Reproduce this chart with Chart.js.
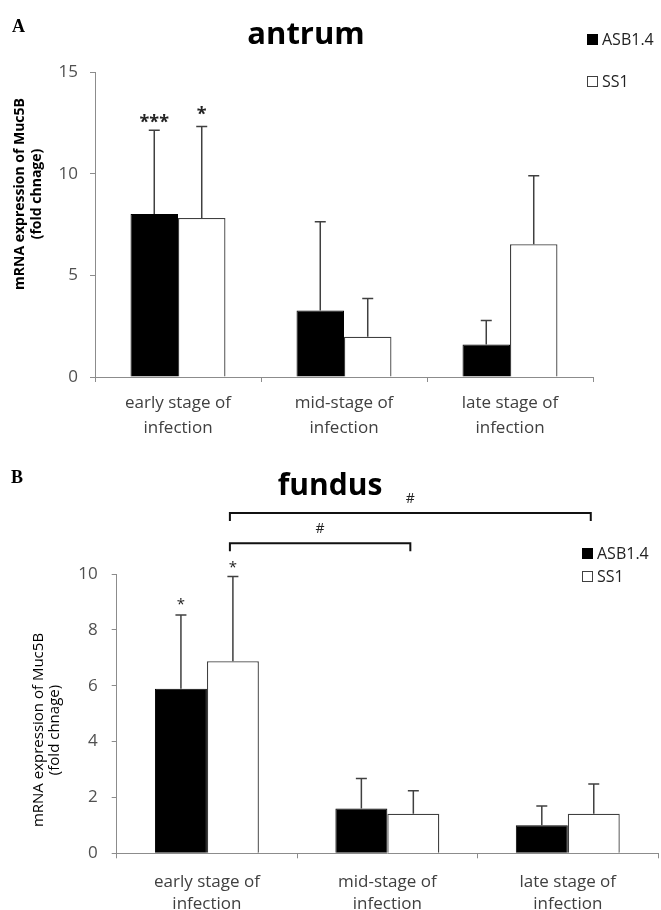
<!DOCTYPE html>
<html><head><meta charset="utf-8">
<script src="https://cdn.jsdelivr.net/npm/chart.js@4.4.1/dist/chart.umd.min.js"></script>
<style>
html,body{margin:0;padding:0;background:#fff;}
#wrap{position:relative;width:661px;height:910px;overflow:hidden;background:#fff;}
.c{position:absolute;left:0;width:661px;}
</style></head><body>
<div id="wrap">
<div class="c" style="top:0;height:450px"><canvas id="cA"></canvas></div>
<div class="c" style="top:450px;height:460px"><canvas id="cB"></canvas></div>
</div>
<script>
// ---------- data ----------
const categories = [["early stage of","infection"],["mid-stage of","infection"],["late stage of","infection"]];
const seriesNames = ["ASB1.4","SS1"];

const antrumASB    = [8.02, 3.27, 1.60];
const antrumASBErr = [4.11, 4.37, 1.18];
const antrumSS1    = [7.82, 1.98, 6.53];
const antrumSS1Err = [4.50, 1.88, 3.37];
const antrumASBSig = ["***", "", ""];
const antrumSS1Sig = ["*", "", ""];
const antrumTicks  = [0, 5, 10, 15];

const fundusASB    = [5.89, 1.60, 1.00];
const fundusASBErr = [2.64, 1.08, 0.69];
const fundusSS1    = [6.88, 1.42, 1.42];
const fundusSS1Err = [3.03, 0.82, 1.06];
const fundusASBSig = ["*", "", ""];
const fundusSS1Sig = ["*", "", ""];
const fundusTicks  = [0, 2, 4, 6, 8, 10];
const fundusComparisons = [{from:0, to:1, label:"#"}, {from:0, to:2, label:"#"}];

const yTitleLines = ["mRNA expression of Muc5B", "(fold chnage)"];

// ---------- plugin ----------
const annot = {
  id: 'annot',
  afterDatasetsDraw(chart, args, o) {
    const ctx = chart.ctx, y = chart.scales.y;
    ctx.save();
    chart.data.datasets.forEach((ds, di) => {
      const meta = chart.getDatasetMeta(di);
      meta.data.forEach((bar, i) => {
        const y0 = y.getPixelForValue(ds.data[i]);
        const y1 = y.getPixelForValue(ds.data[i] + ds.err[i]);
        ctx.strokeStyle = o.errColor; ctx.lineWidth = o.errWidth;
        ctx.beginPath();
        ctx.moveTo(bar.x, y0); ctx.lineTo(bar.x, y1);
        ctx.moveTo(bar.x - o.cap, y1); ctx.lineTo(bar.x + o.cap, y1);
        ctx.stroke();
        if (ds.sig[i]) {
          ctx.font = o.sigFont; ctx.fillStyle = '#222';
          ctx.textAlign = 'center'; ctx.textBaseline = 'alphabetic';
          ctx.fillText(ds.sig[i], bar.x, y1 - o.sigGap[di]);
        }
      });
    });
    ctx.restore();
  },
  afterDraw(chart, args, o) {
    const ctx = chart.ctx;
    ctx.save();
    // panel letter
    ctx.fillStyle = '#000'; ctx.textAlign = 'left'; ctx.textBaseline = 'alphabetic';
    ctx.font = 'bold 18px "Liberation Serif"';
    ctx.fillText(o.letter, o.letterPos[0], o.letterPos[1]);
    // title
    ctx.font = o.titleFont; ctx.textAlign = 'center';
    ctx.fillText(o.title, o.titlePos[0], o.titlePos[1]);
    // y title
    ctx.save();
    ctx.translate(o.yTitle.x, o.yTitle.y);
    ctx.rotate(-Math.PI / 2);
    ctx.font = o.yTitle.font; ctx.fillStyle = '#000'; ctx.textAlign = 'center'; ctx.textBaseline = 'middle';
    yTitleLines.forEach((t, k) => ctx.fillText(t, 0, k * o.yTitle.gap));
    ctx.restore();
    // legend
    ctx.font = '16px "Open Sans"'; ctx.textAlign = 'left'; ctx.textBaseline = 'middle';
    chart.data.datasets.forEach((ds, di) => {
      const lx = o.legend.x, ly = o.legend.y + di * o.legend.gap;
      if (di === 0) { ctx.fillStyle = '#000'; ctx.fillRect(lx, ly - 6, 11, 11); }
      else { ctx.fillStyle = '#fff'; ctx.fillRect(lx, ly - 6, 11, 11); ctx.strokeStyle = '#404040'; ctx.lineWidth = 1; ctx.strokeRect(lx + 0.5, ly - 5.5, 10, 10); }
      ctx.fillStyle = '#222';
      ctx.fillText(ds.label, lx + 15, ly);
    });
    // brackets
    if (o.comparisons) {
      const meta = chart.getDatasetMeta(1);
      o.comparisons.forEach((c, k) => {
        const x1 = meta.data[c.from].x - 3, x2 = meta.data[c.to].x - 3;
        const yl = chart.chartArea.top - o.bracketOffsets[k];
        ctx.strokeStyle = '#111'; ctx.lineWidth = 2;
        ctx.beginPath();
        ctx.moveTo(x1, yl + 8); ctx.lineTo(x1, yl); ctx.lineTo(x2, yl); ctx.lineTo(x2, yl + 8);
        ctx.stroke();
        ctx.font = '14px "Open Sans"'; ctx.fillStyle = '#222'; ctx.textAlign = 'center'; ctx.textBaseline = 'alphabetic';
        ctx.fillText(c.label, (x1 + x2) / 2, yl - 10);
      });
    }
    ctx.restore();
  }
};

Chart.defaults.font.family = '"Open Sans"';
Chart.defaults.animation = false;

function makeChart(id, cfg) {
  return new Chart(document.getElementById(id), {
    type: 'bar',
    data: {
      labels: categories,
      datasets: [
        { label: seriesNames[0], data: cfg.a, err: cfg.aErr, sig: cfg.aSig, backgroundColor: '#000', borderColor: '#000', borderWidth: 1 },
        { label: seriesNames[1], data: cfg.b, err: cfg.bErr, sig: cfg.bSig, backgroundColor: '#fff', borderColor: '#404040', borderWidth: 1.3 }
      ]
    },
    plugins: [annot],
    options: {
      responsive: true, maintainAspectRatio: false,
      layout: { padding: { left: 0, right: cfg.padRight, top: cfg.padTop, bottom: 0 } },
      datasets: { bar: { categoryPercentage: cfg.catPct, barPercentage: 1 } },
      plugins: { legend: { display: false }, tooltip: { enabled: false }, annot: cfg.annot },
      scales: {
        x: {
          grid: { display: true, offset: true, drawOnChartArea: false, drawTicks: true, tickLength: 5, color: '#8c8c8c' },
          border: { display: true, color: '#8c8c8c' },
          ticks: { color: '#404040', font: { size: 17, lineHeight: cfg.xLineHeight }, padding: cfg.xPad, maxRotation: 0, autoSkip: false },
          afterFit: s => { s.height = cfg.xHeight; }
        },
        y: {
          min: cfg.ticks[0], max: cfg.ticks[cfg.ticks.length - 1],
          afterBuildTicks: s => { s.ticks = cfg.ticks.map(v => ({ value: v })); },
          grid: { display: true, drawOnChartArea: false, drawTicks: true, tickLength: 5, color: '#8c8c8c' },
          border: { display: true, color: '#8c8c8c' },
          ticks: { color: '#505050', font: { size: 17 }, padding: cfg.yPad },
          afterFit: s => { s.width = cfg.yWidth; }
        }
      }
    }
  });
}

makeChart('cA', {
  a: antrumASB, aErr: antrumASBErr, aSig: antrumASBSig,
  b: antrumSS1, bErr: antrumSS1Err, bSig: antrumSS1Sig,
  ticks: antrumTicks, padRight: 68, padTop: 72, catPct: 0.572,
  xHeight: 73, xPad: 9, xLineHeight: 1.45, yPad: 12, yWidth: 95,
  annot: {
    errColor: '#404040', errWidth: 1.5, cap: 5.5, sigFont: 'bold 18px "Open Sans"', sigGap: [2, 6],
    letter: 'A', letterPos: [12, 32], title: 'antrum', titleFont: 'bold 31px "Open Sans"', titlePos: [306, 44],
    yTitle: { x: 20, y: 194, gap: 17, font: 'bold 14px "Open Sans"' },
    legend: { x: 587, y: 40, gap: 42 }
  }
});

makeChart('cB', {
  a: fundusASB, aErr: fundusASBErr, aSig: fundusASBSig,
  b: fundusSS1, bErr: fundusSS1Err, bSig: fundusSS1Sig,
  ticks: fundusTicks, padRight: 3, padTop: 124, catPct: 0.576,
  xHeight: 56.7, xPad: 13, xLineHeight: 1.3, yPad: 14, yWidth: 116.7,
  annot: {
    errColor: '#404040', errWidth: 1.5, cap: 5.5, sigFont: '15px "Open Sans"', sigGap: [6, 5],
    letter: 'B', letterPos: [11, 33], title: 'fundus', titleFont: 'bold 30px "Open Sans"', titlePos: [330, 45],
    yTitle: { x: 39, y: 280, gap: 15.5, font: '15px "Open Sans"' },
    legend: { x: 582, y: 104, gap: 23 },
    comparisons: fundusComparisons, bracketOffsets: [30.7, 61]
  }
});
</script>
</body></html>
